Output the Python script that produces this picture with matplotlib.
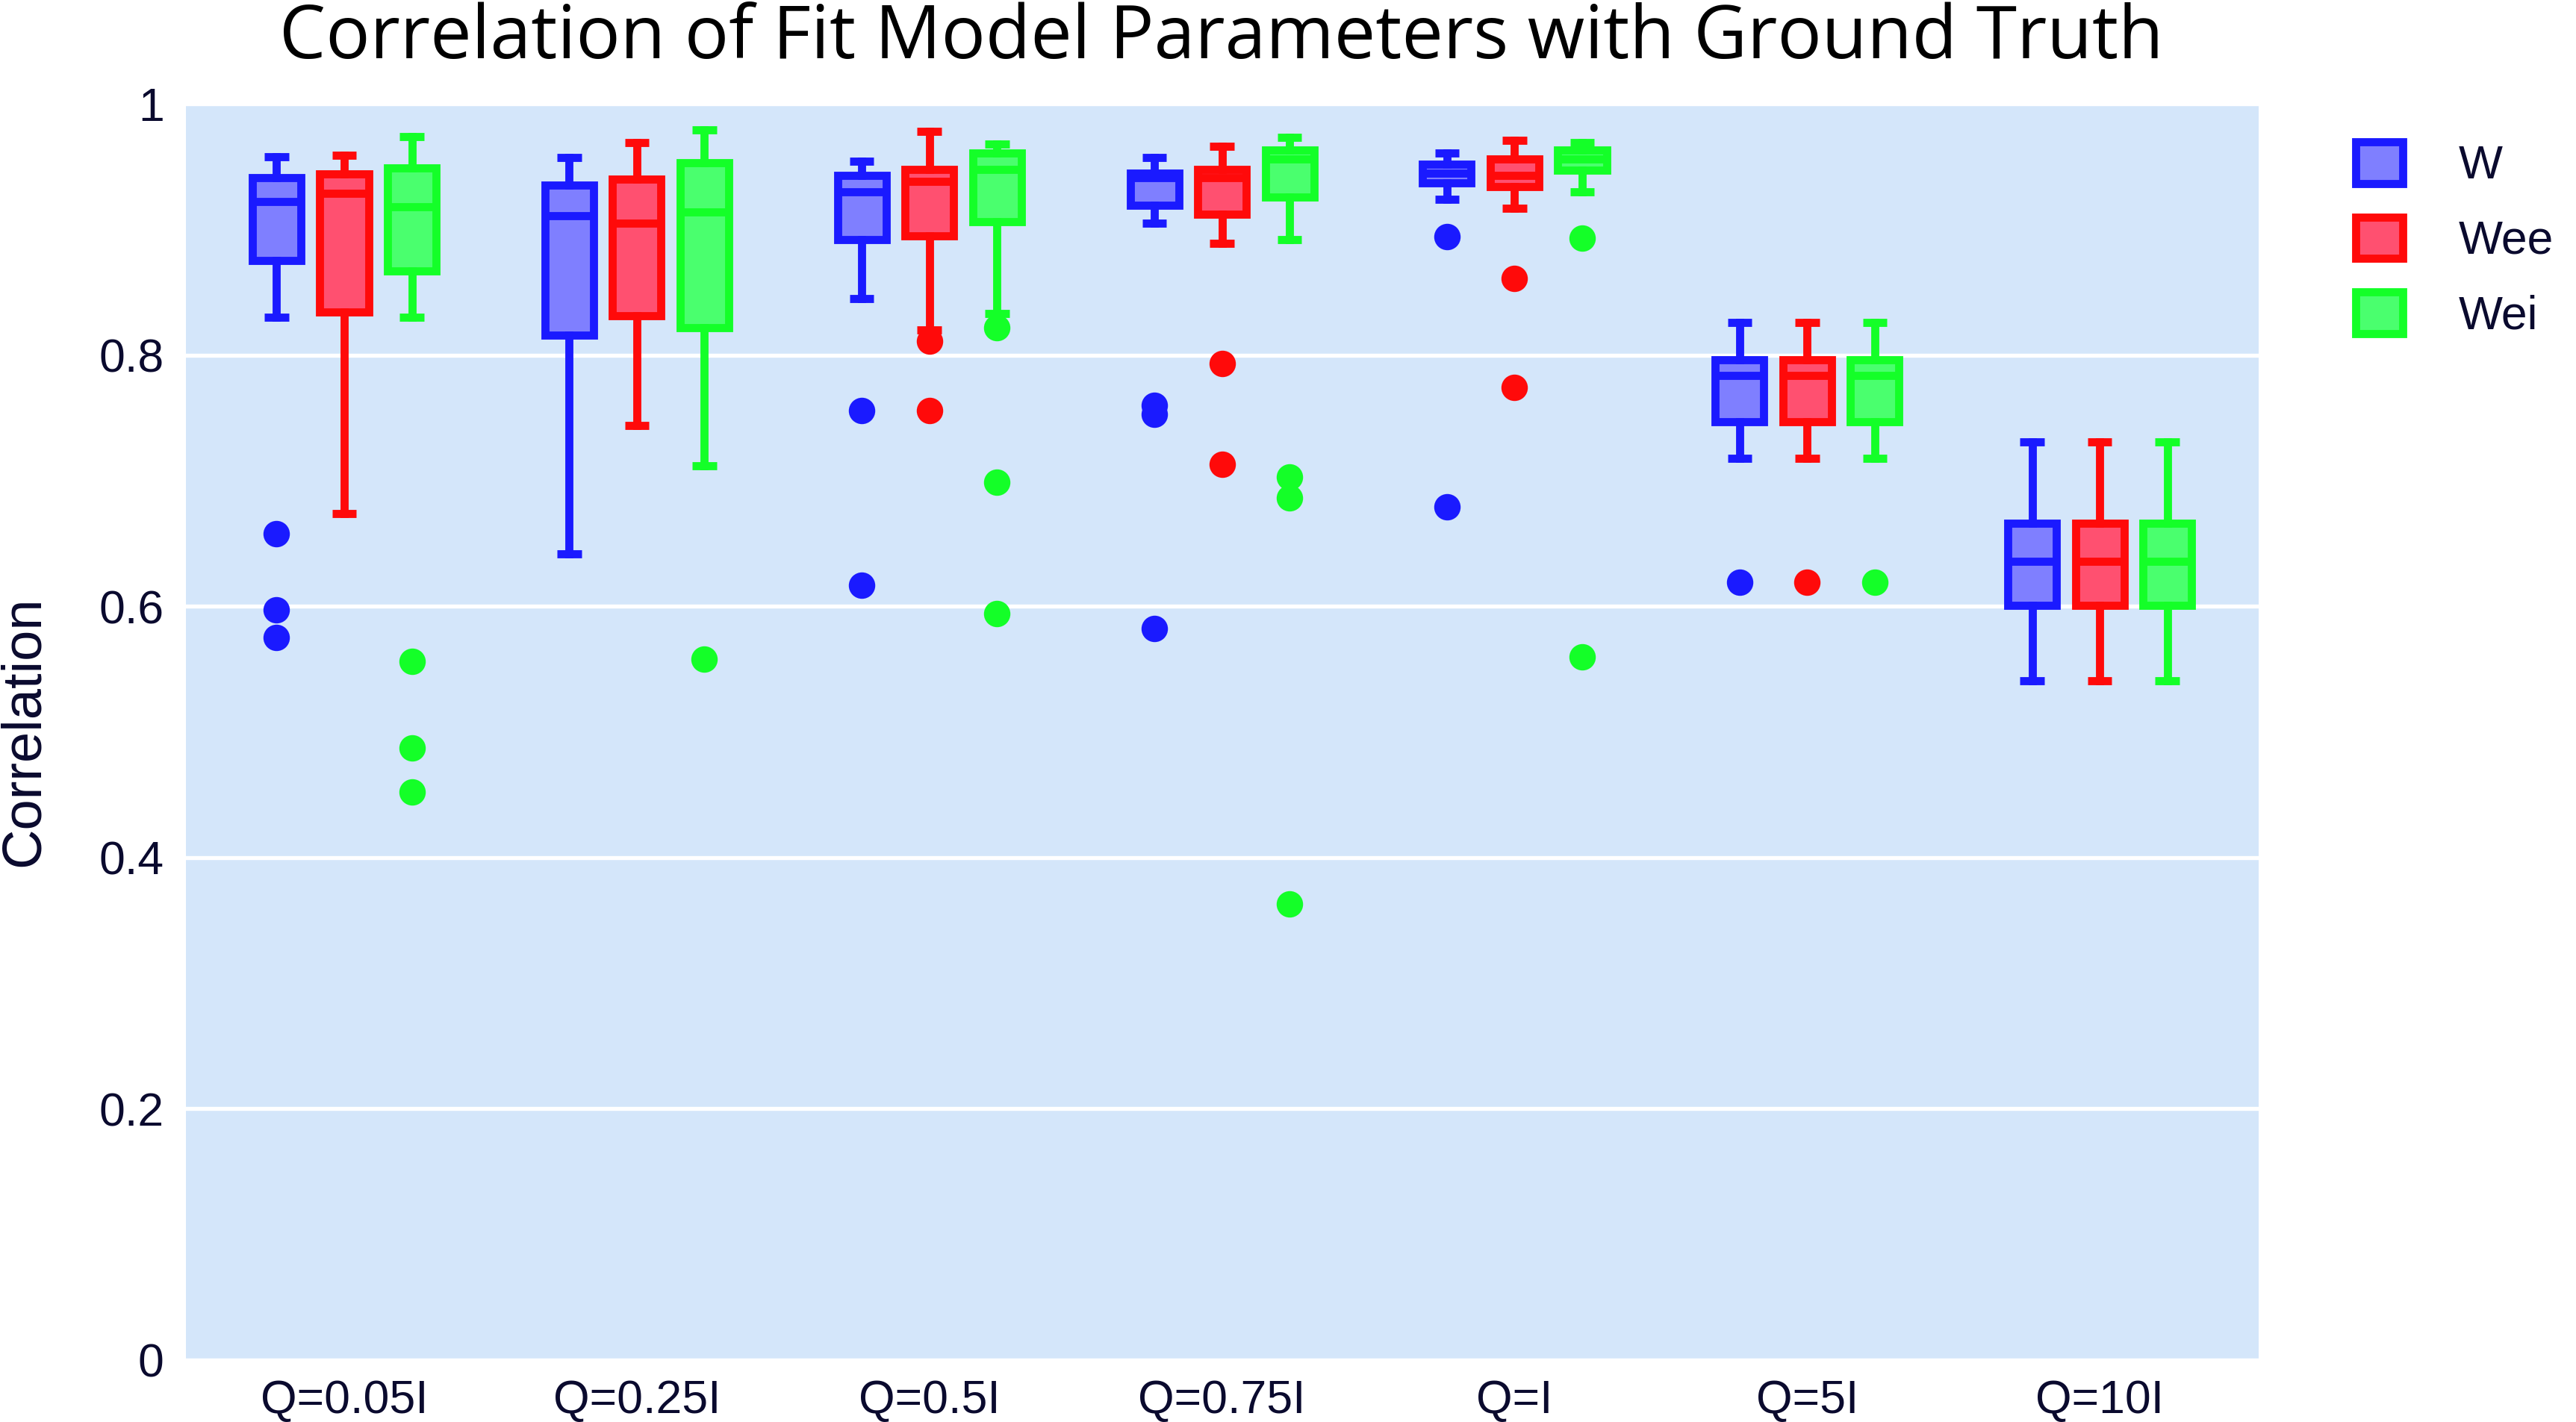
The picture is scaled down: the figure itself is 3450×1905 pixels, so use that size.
import matplotlib
matplotlib.use("Agg")
from matplotlib import pyplot as plt
from matplotlib.patches import Patch

categories = ['Q=0.05I', 'Q=0.25I', 'Q=0.5I', 'Q=0.75I', 'Q=I', 'Q=5I', 'Q=10I']
series = ['W', 'Wee', 'Wei']

# box stats, one value per category
w_hi = [0.958, 0.957, 0.954, 0.957, 0.961, 0.826, 0.731]
w_q3 = [0.941, 0.935, 0.943, 0.945, 0.952, 0.796, 0.666]
w_med = [0.922, 0.911, 0.930, 0.941, 0.945, 0.784, 0.636]
w_q1 = [0.875, 0.816, 0.892, 0.919, 0.937, 0.747, 0.601]
w_lo = [0.830, 0.642, 0.845, 0.905, 0.924, 0.718, 0.541]
w_out = [[0.658, 0.597, 0.575], [], [0.756, 0.617], [0.760, 0.753, 0.582],
         [0.894, 0.679], [0.619], []]

wee_hi = [0.959, 0.969, 0.978, 0.966, 0.971, 0.826, 0.731]
wee_q3 = [0.944, 0.940, 0.948, 0.948, 0.956, 0.796, 0.666]
wee_med = [0.929, 0.905, 0.938, 0.941, 0.943, 0.784, 0.636]
wee_q1 = [0.834, 0.831, 0.895, 0.912, 0.934, 0.747, 0.601]
wee_lo = [0.674, 0.744, 0.820, 0.889, 0.917, 0.718, 0.541]
wee_out = [[], [], [0.811, 0.756], [0.793, 0.713], [0.861, 0.774], [0.619], []]

wei_hi = [0.974, 0.979, 0.968, 0.973, 0.969, 0.826, 0.731]
wei_q3 = [0.949, 0.953, 0.961, 0.963, 0.963, 0.796, 0.666]
wei_med = [0.918, 0.914, 0.948, 0.956, 0.956, 0.784, 0.636]
wei_q1 = [0.867, 0.822, 0.906, 0.926, 0.947, 0.747, 0.601]
wei_lo = [0.830, 0.712, 0.833, 0.892, 0.930, 0.718, 0.541]
wei_out = [[0.556, 0.487, 0.452], [0.558], [0.822, 0.699, 0.594],
           [0.703, 0.686, 0.363], [0.893, 0.560], [0.619], []]

edge_colors = ['#1A1AFF', '#FF0A0A', '#14FF28']
fill_colors = ['#7F7FFF', '#FF5070', '#4AFF6E']
text_color = '#0A0A2E'

plt.rcParams['font.family'] = ['Liberation Sans', 'DejaVu Sans']

fig = plt.figure(figsize=(11.5, 6.35), dpi=300)
ax = fig.add_axes([0.07217, 0.04357, 0.80464, 0.88346])
ax.set_facecolor('#D4E6FA')

all_stats = [
    (w_lo, w_q1, w_med, w_q3, w_hi, w_out),
    (wee_lo, wee_q1, wee_med, wee_q3, wee_hi, wee_out),
    (wei_lo, wei_q1, wei_med, wei_q3, wei_hi, wei_out),
]
lw = 2.6
for i, (lo, q1, med, q3, hi, out) in enumerate(all_stats):
    stats = []
    for k in range(len(categories)):
        stats.append(dict(whislo=lo[k], q1=q1[k], med=med[k], q3=q3[k],
                          whishi=hi[k], fliers=out[k]))
    pos = [k + (i - 1) * 0.231 for k in range(len(categories))]
    ec = edge_colors[i]
    ax.bxp(stats, positions=pos, widths=0.166, capwidths=0.083,
           patch_artist=True, manage_ticks=False,
           boxprops=dict(facecolor=fill_colors[i], edgecolor=ec, linewidth=lw, joinstyle='miter'),
           whiskerprops=dict(color=ec, linewidth=lw),
           capprops=dict(color=ec, linewidth=lw, solid_capstyle='butt'),
           medianprops=dict(color=ec, linewidth=lw, solid_capstyle='butt'),
           flierprops=dict(marker='o', markerfacecolor=ec, markeredgecolor=ec,
                           markersize=7.5, linestyle='none'))

ax.set_xlim(-0.541, 6.543)
ax.set_ylim(0, 1)
ax.set_xticks(range(len(categories)), categories)
ax.set_yticks([0, 0.2, 0.4, 0.6, 0.8, 1], ['0', '0.2', '0.4', '0.6', '0.8', '1'])
ax.tick_params(length=0, labelsize=15, labelcolor=text_color)
ax.tick_params(axis='x', pad=6)
ax.tick_params(axis='y', pad=7)
ax.yaxis.grid(True, color='white', linewidth=1.3)
ax.set_axisbelow(True)
for s in ax.spines.values():
    s.set_visible(False)

fig.text(0.4740, 0.959, 'Correlation of Fit Model Parameters with Ground Truth',
         ha='center', va='baseline', fontsize=23.7, family='Open Sans', color='black')
fig.text(0.0093, 0.4856, 'Correlation', rotation=90, ha='center', va='center',
         fontsize=17.8, color=text_color)

handles = [Patch(facecolor=fill_colors[i], edgecolor=edge_colors[i], linewidth=lw)
           for i in range(3)]
fig.legend(handles, series, loc='upper left', bbox_to_anchor=(3155 / 3450, 1 - 190 / 1905),
           frameon=False, borderpad=0, borderaxespad=0, handlelength=1.0,
           handleheight=1.0, handletextpad=1.2, labelspacing=0.61,
           fontsize=15, labelcolor=text_color)

fig.savefig('out.png', dpi=300)
